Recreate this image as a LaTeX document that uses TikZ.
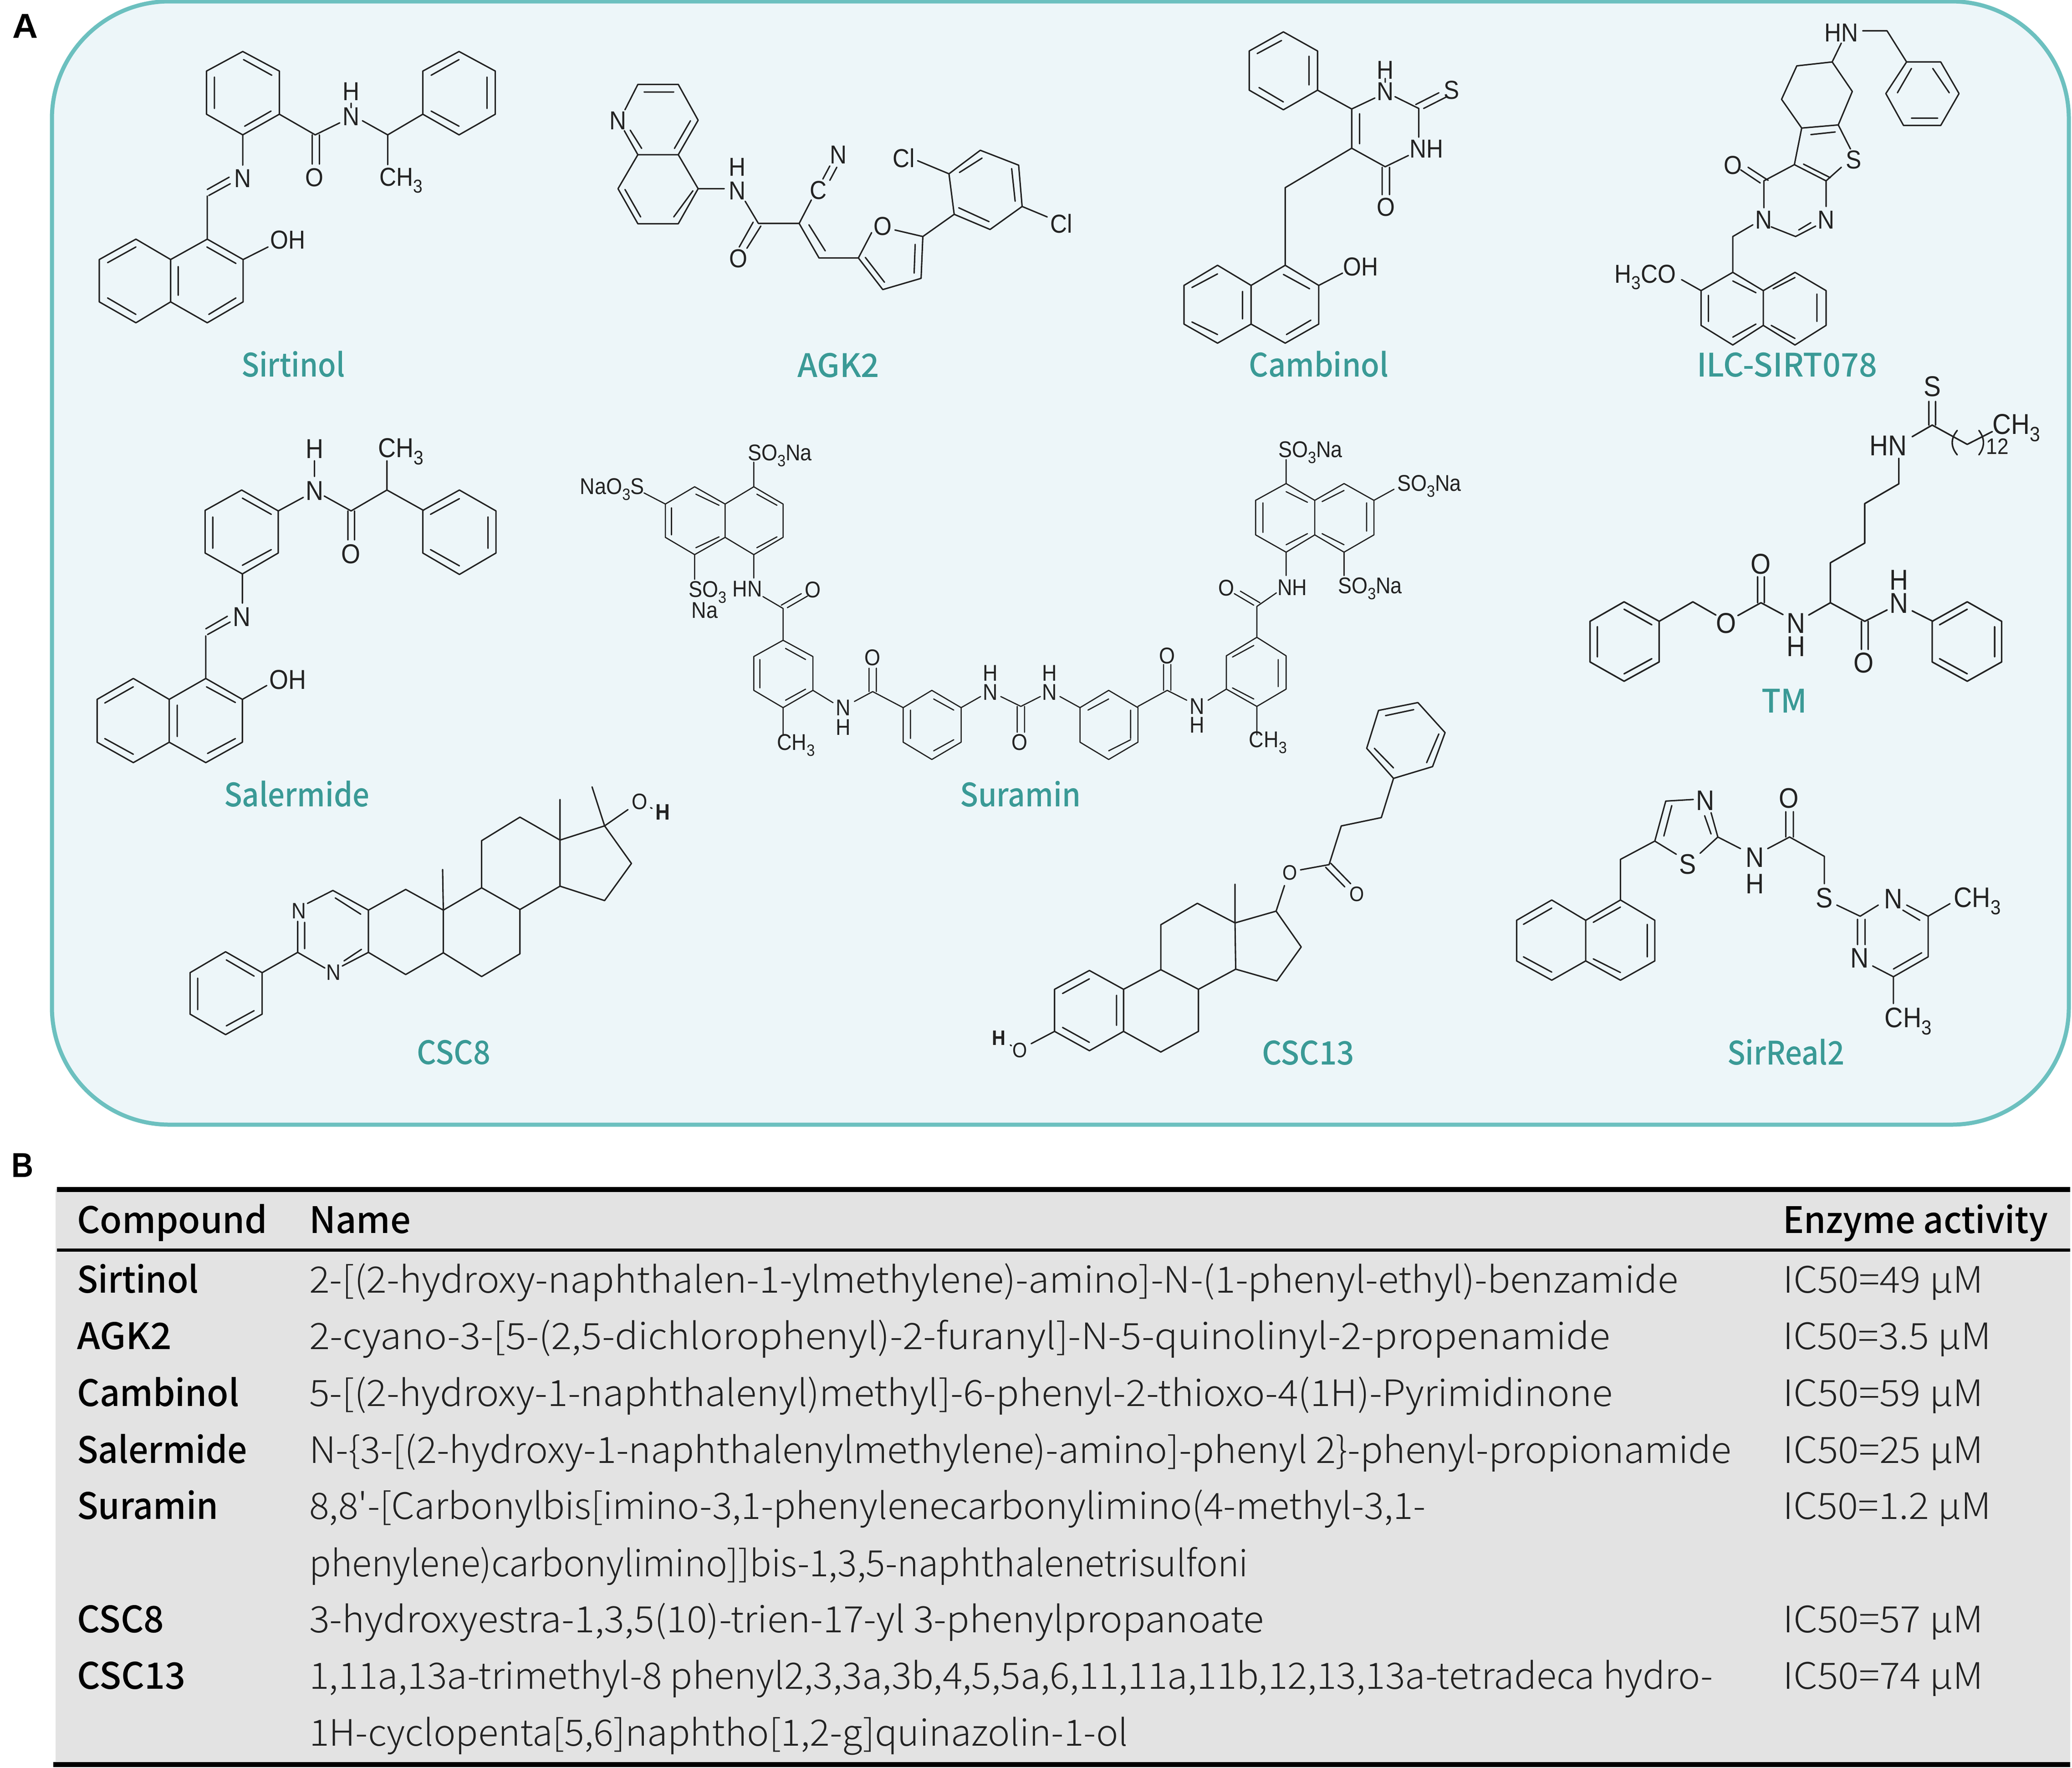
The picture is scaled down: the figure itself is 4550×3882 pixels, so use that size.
\documentclass[tikz,border=0pt]{standalone}
\usepackage{fontspec}
\usepackage{graphicx}
\newfontfamily\chemf{Liberation Sans}[FakeStretch=0.9]
\newfontfamily\platef{Liberation Sans}
\newfontfamily\tabf{Noto Sans CJK SC Light}[BoldFont={Noto Sans CJK SC Medium}]
\newfontfamily\labf{Noto Sans CJK SC Medium}
\definecolor{teal1}{HTML}{3A9A96}
\definecolor{edgeT}{HTML}{6CC0BF}
\definecolor{panelF}{HTML}{EDF6F9}
\definecolor{grayT}{HTML}{E3E3E3}
\definecolor{ink}{HTML}{222222}
\newlength\fitlen
\newcommand\fitto[2]{\settowidth\fitlen{#2}\pgfmathsetmacro\fitr{#1/\the\fitlen}\scalebox{\fitr}[1]{#2}}
\newcommand\lowr[1]{\raisebox{-0.26em}{\scalebox{0.72}{#1}}}
\def\asz{48}
\tikzset{
 bond/.style={draw=ink,line width=3.1pt,line cap=round,line join=round},
 atom/.style={inner sep=0pt,text=ink,font=\fontsize{\asz}{\asz}\selectfont\chemf},
 atomw/.style={atom,anchor=base west},
 molname/.style={inner sep=0pt,anchor=base west,text=teal1,font=\fontsize{71}{71}\selectfont\labf},
 tabb/.style={inner sep=0pt,anchor=base west,text=black,font=\fontsize{80}{80}\selectfont\tabf\bfseries},
 tabr/.style={inner sep=0pt,anchor=base west,text=ink,font=\fontsize{80}{80}\selectfont\tabf},
 plabel/.style={inner sep=0pt,anchor=base west,text=black,font=\fontsize{76}{76}\selectfont\platef\bfseries},
 mol/.style n args={4}{shift={(#1pt,-#2pt)},x=#3pt,y=-#4pt}
}
\newcommand\atm[2]{\node[atom] at (#1) {#2};}
\newcommand\atb[2]{\node[atomw] at (#1) {#2};}
\begin{document}
\begin{tikzpicture}[x=1pt,y=-1pt]
\useasboundingbox (0,0) rectangle (4550,3882);
\fill[white] (0,0) rectangle (4550,3882);
% panel
\path[draw=edgeT,fill=panelF,line width=9pt,rounded corners=258pt] (114,3) rectangle (4543,2470);
\node[plabel] (pa) at (27,83) {\fitto{56}{A}};
\node[plabel] (pb) at (25,2585) {\fitto{48}{B}};
% names
\node[molname] (n1) at (530,827) {\fitto{227}{Sirtinol}};
\node[molname] (n2) at (1751,828) {\fitto{180}{AGK2}};
\node[molname] (n3) at (2742,827) {\fitto{307}{Cambinol}};
\node[molname] (n4) at (3726,827) {\fitto{396}{ILC-SIRT078}};
\node[molname] (n5) at (492,1771) {\fitto{319}{Salermide}};
\node[molname] (n6) at (2108,1771) {\fitto{265}{Suramin}};
\node[molname] (n7) at (3868,1565) {\fitto{100}{TM}};
\node[molname] (n8) at (915,2337) {\fitto{162}{CSC8}};
\node[molname] (n9) at (2771,2338) {\fitto{203}{CSC13}};
\node[molname] (n10) at (3793,2338) {\fitto{257}{SirReal2}};
% Sirtinol
\begin{scope}[mol={0}{0}{.829}{.574}]
\def\asz{57}
\draw[bond] (643,197)--(740,272)--(740,437)--(643,516)--(547,437)--(547,272)--cycle
 (645,228)--(720,288) (568,295)--(568,415) (718,425)--(648,483)
 (740,437)--(835,516)--(900,470) (960,462)--(1027,516)--(1120,437)
 (1216,197)--(1312,272)--(1312,437)--(1216,516)--(1120,437)--(1120,272)--cycle
 (1216,228)--(1142,288) (1290,295)--(1290,415) (1142,425)--(1216,483)
 (1027,516)--(1027,630) (827,516)--(827,628) (846,516)--(846,628)
 (930,395)--(930,412) (643,516)--(643,632)
 (549,725)--(607,678) (553,748)--(610,703) (549,750)--(549,915)
 (549,915)--(644,993)--(644,1155)--(549,1235)--(452,1155)--(452,993)--cycle
 (452,993)--(360,915)--(263,993)--(263,1155)--(360,1235)--(452,1155)
 (548,945)--(625,1008) (472,1020)--(472,1130) (553,1203)--(625,1140)
 (360,945)--(285,1005) (285,1140)--(360,1203) (644,993)--(710,945);
\atm{930,445}{N}\atm{930,350}{H}\atm{833,680}{O}\atm{643,683}{N}
\atm{762,918}{OH}\atb{1005,712}{CH\lowr{3}}
\end{scope}
% AGK2
\begin{scope}[mol={1250}{0}{.765}{.574}]
\def\asz{57}
\draw[bond] (160,420)--(197,323)--(313,323)--(370,460)--(313,592)--(197,592)--(158,500)
 (215,352)--(300,352) (348,462)--(302,568) (208,568)--(175,498)
 (313,592)--(370,722)--(313,856)--(197,856)--(140,722)--(197,592)
 (355,730)--(300,830) (205,830)--(160,725) (370,722)--(445,722)
 (505,770)--(543,855) (550,865)--(510,950) (528,850)--(488,945) (543,855)--(660,855)--(695,765)
 (728,685)--(748,635) (748,690)--(768,640)
 (660,855)--(717,987)--(830,987) (688,860)--(735,960)
 (868,890)--(830,987)--(900,1108)--(1010,1065)--(1015,905)--(935,880)
 (993,935)--(990,1045) (905,1080)--(850,985)
 (1015,905)--(1105,820)
 (1105,820)--(1090,665)--(1180,575)--(1290,632)--(1300,790)--(1208,878)--cycle
 (1120,660)--(1185,605) (1270,645)--(1280,770) (1118,795)--(1205,848)
 (1000,615)--(1090,665) (1300,790)--(1372,830);
\atm{140,462}{N}\atm{483,730}{N}\atm{483,640}{H}\atm{485,990}{O}\atm{715,728}{C}\atm{772,592}{N}
\atm{900,865}{O}\atm{960,605}{Cl}\atm{1413,855}{Cl}
\end{scope}
% Cambinol + ILC
\begin{scope}[mol={2450}{0}{1.339}{.574}]
\def\asz{57}
\draw[bond] (275,122)--(331,195)--(331,345)--(275,420)--(219,345)--(219,195)--cycle
 (232,205)--(272,155) (317,215)--(317,325) (235,335)--(275,390)
 (331,345)--(387,417)--(425,375) (458,370)--(497,415)--(497,525) (480,595)--(442,638)--(387,567)--(387,417)
 (400,435)--(400,550) (492,400)--(530,355) (505,415)--(543,370)
 (442,300)--(442,315) (437,640)--(437,745) (449,640)--(449,745)
 (387,567)--(278,718)--(278,1015)
 (278,1015)--(333,1092)--(333,1240)--(278,1313)--(222,1240)--(222,1092)--cycle
 (222,1092)--(167,1015)--(112,1092)--(112,1240)--(167,1313)--(222,1240)
 (275,1050)--(318,1105) (208,1115)--(208,1220) (280,1280)--(320,1225)
 (167,1048)--(125,1100) (125,1232)--(167,1280) (333,1092)--(372,1045);
\atm{442,268}{H}\atm{442,350}{N}\atm{551,345}{S}\atm{510,570}{NH}\atm{443,792}{O}\atm{402,1020}{OH}
% ILC
\draw[bond] (1225,118)--(1265,118)--(1297,237)
 (1297,237)--(1353,237)--(1383,358)--(1353,480)--(1292,480)--(1263,358)--cycle
 (1282,355)--(1305,262) (1340,262)--(1367,355) (1305,452)--(1348,452)
 (1190,165)--(1175,237)--(1117,252)--(1092,380)--(1125,490)--(1185,478)--(1208,350)--(1175,237)
 (1140,515)--(1180,505) (1185,478)--(1205,570) (1125,490)--(1113,630)--(1165,692)--(1190,640)
 (1128,628)--(1172,680) (1165,692)--(1165,790) (1113,630)--(1063,692)--(1063,795)
 (1057,700)--(1025,650) (1070,690)--(1037,640)
 (1075,868)--(1115,905)--(1148,865) (1120,880)--(1140,852)
 (1045,860)--(1012,905)--(1012,1042)
 (1012,1042)--(1062,1112)--(1062,1245)--(1012,1320)--(960,1245)--(960,1112)--cycle
 (1062,1112)--(1114,1042)--(1165,1112)--(1165,1245)--(1114,1320)--(1062,1245)
 (1012,1075)--(1050,1120) (972,1130)--(972,1230) (1012,1290)--(1050,1240)
 (1078,1105)--(1114,1062) (1150,1125)--(1150,1230) (1075,1245)--(1114,1295)
 (928,1070)--(960,1112);
\atm{1190,125}{HN}\atm{1210,612}{S}\atm{1165,842}{N}\atm{1063,842}{N}\atm{1012,632}{O}
\atb{818,1082}{H\lowr{3}CO}
\end{scope}
% Salermide
\begin{scope}[mol={100}{900}{.765}{.574}]
\def\asz{60}
\draw[bond] (563,307)--(668,387)--(668,548)--(565,628)--(458,548)--(458,385)--cycle
 (565,338)--(648,400) (480,410)--(480,530) (565,595)--(648,535)
 (668,387)--(740,335) (772,195)--(772,255) (800,330)--(877,387)--(980,307)--(980,195)
 (980,307)--(1085,385)
 (1188,307)--(1293,387)--(1293,548)--(1188,630)--(1083,548)--(1083,385)--cycle
 (1188,340)--(1105,400) (1270,410)--(1270,530) (1105,535)--(1188,597)
 (868,387)--(868,498) (887,387)--(887,498) (565,628)--(565,740)
 (460,838)--(522,790) (465,860)--(530,812) (460,865)--(460,1028)
 (460,1028)--(565,1108)--(565,1272)--(460,1350)--(355,1272)--(355,1108)--cycle
 (355,1108)--(252,1028)--(148,1108)--(148,1272)--(252,1350)--(355,1272)
 (462,1060)--(545,1120) (378,1130)--(378,1250) (465,1315)--(545,1258)
 (252,1060)--(170,1122) (170,1258)--(252,1318) (565,1108)--(635,1055);
\atm{772,310}{N}\atm{772,150}{H}\atm{876,552}{O}\atm{563,792}{N}\atm{695,1033}{OH}
\atb{955,182}{CH\lowr{3}}
\end{scope}
% Suramin
\begin{scope}[mol={1200}{920}{1.339}{.542}]
\def\asz{50}
\tikzset{bond/.append style={line width=2.6pt}}
\draw[bond] (340,275)--(388,345)--(388,480)--(340,550)--(293,480)--(293,345)--cycle
 (293,345)--(243,275)--(195,345)--(195,480)--(243,550)--(293,480)
 (245,305)--(283,350) (205,360)--(205,470) (245,522)--(283,478) (345,305)--(378,350) (345,522)--(378,478)
 (340,275)--(340,175) (195,345)--(160,300) (243,550)--(243,650) (340,550)--(340,645)
 (355,720)--(388,768) (385,755)--(418,708) (395,765)--(428,718) (388,768)--(388,897)
 (388,897)--(437,963)--(437,1100)--(388,1170)--(340,1100)--(340,963)--cycle
 (392,930)--(425,975) (350,975)--(350,1090) (392,1140)--(425,1095)
 (388,1170)--(388,1280) (437,1100)--(470,1150) (505,1145)--(535,1105)
 (529,1105)--(529,1010) (541,1105)--(541,1010) (535,1105)--(585,1170)
 (632,1100)--(680,1170)--(680,1310)--(632,1380)--(585,1310)--(585,1170)--cycle
 (635,1135)--(668,1180) (597,1180)--(597,1295) (635,1345)--(668,1300)
 (680,1170)--(712,1125) (745,1125)--(778,1165)--(810,1125)
 (772,1165)--(772,1270) (784,1165)--(784,1270) (842,1125)--(875,1170)
 (922,1100)--(970,1170)--(970,1310)--(922,1380)--(875,1310)--(875,1170)--cycle
 (922,1135)--(888,1180) (958,1180)--(958,1295) (922,1345)--(958,1300)
 (970,1165)--(1018,1100) (1012,1100)--(1012,995) (1024,1100)--(1024,995)
 (1018,1100)--(1050,1140) (1085,1140)--(1115,1095)
 (1165,885)--(1213,960)--(1213,1095)--(1165,1165)--(1115,1095)--(1115,960)--cycle
 (1160,918)--(1125,965) (1200,975)--(1200,1085) (1125,1090)--(1160,1135)
 (1165,1165)--(1165,1280) (1165,885)--(1165,760) (1160,755)--(1128,708) (1170,745)--(1138,698)
 (1165,760)--(1197,705) (1213,635)--(1213,540)
 (1213,262)--(1260,330)--(1260,470)--(1213,540)--(1163,470)--(1163,330)--cycle
 (1260,330)--(1308,262)--(1357,330)--(1357,470)--(1308,540)--(1260,470)
 (1213,295)--(1248,338) (1175,340)--(1175,460) (1213,510)--(1248,465)
 (1272,335)--(1308,290) (1345,340)--(1345,455) (1272,465)--(1308,510)
 (1213,262)--(1213,165) (1357,330)--(1390,285) (1308,540)--(1308,635);
\atb{330,168}{SO\lowr{3}Na}\atb{55,305}{NaO\lowr{3}S}\atb{233,722}{SO\lowr{3}}\atb{238,808}{Na}
\atb{305,720}{HN}\atm{437,692}{O}\atb{378,1342}{CH\lowr{3}}\atm{487,1170}{N}\atm{487,1250}{H}
\atm{535,967}{O}\atm{728,1108}{N}\atm{728,1030}{H}\atm{825,1108}{N}\atm{825,1030}{H}\atm{776,1310}{O}
\atm{1018,960}{O}\atm{1067,1165}{N}\atm{1067,1240}{H}\atb{1152,1332}{CH\lowr{3}}\atm{1115,685}{O}
\atm{1223,683}{NH}\atb{1200,155}{SO\lowr{3}Na}\atb{1395,292}{SO\lowr{3}Na}\atb{1298,708}{SO\lowr{3}Na}
\end{scope}
% TM
\begin{scope}[mol={3400}{800}{.733}{.51}]
\def\asz{63}
\tikzset{bond/.append style={line width=3.4pt}}
\draw[bond] (227,1023)--(332,1107)--(332,1282)--(227,1365)--(125,1282)--(125,1107)--cycle
 (227,1055)--(310,1122) (147,1130)--(147,1260) (227,1333)--(310,1268)
 (332,1107)--(433,1023)--(502,1080) (568,1082)--(637,1027)--(703,1078)
 (627,1027)--(627,915) (647,1027)--(647,915)
 (780,1080)--(845,1027)--(845,855)--(948,770)--(948,600)--(1050,515)--(1050,405)
 (1090,312)--(1150,262)--(1255,345)--(1330,290) (1140,262)--(1140,160) (1160,262)--(1160,160)
 (1225,285) .. controls (1205,320) and (1205,355) .. (1225,390)
 (1290,285) .. controls (1308,320) and (1308,355) .. (1290,390)
 (845,1027)--(948,1107)--(1015,1058) (938,1107)--(938,1228) (958,1107)--(958,1228)
 (1090,1062)--(1152,1107)
 (1255,1023)--(1358,1107)--(1358,1282)--(1255,1365)--(1150,1282)--(1150,1107)--cycle
 (1255,1055)--(1172,1122) (1337,1130)--(1337,1260) (1172,1268)--(1255,1333);
\atm{533,1115}{O}\atm{637,860}{O}\atm{742,1115}{N}\atm{742,1215}{H}\atm{1018,350}{HN}\atm{1150,95}{S}
\atb{1330,300}{CH\lowr{3}}\atb{1312,388}{\scalebox{.78}{12}}\atm{945,1285}{O}\atm{1050,1030}{N}\atm{1050,930}{H}
\end{scope}
% CSC8
\begin{scope}[mol={350}{1680}{.765}{.446}]
\def\asz{49}
\draw[bond] (190,920)--(295,1023)--(295,1227)--(190,1328)--(88,1227)--(88,1023)--cycle
 (192,960)--(272,1040) (110,1050)--(110,1205) (192,1285)--(272,1210)
 (295,1023)--(397,923) (397,923)--(397,770) (417,905)--(417,775) (397,923)--(475,1000)
 (525,990)--(600,923)--(600,715)--(498,618)--(425,682) (530,965)--(580,908) (505,655)--(578,735)
 (600,715)--(707,613)--(815,715)--(815,925)--(707,1032)--(600,923)
 (813,515)--(815,715) (815,715)--(925,605)--(1035,712)--(1035,930)--(925,1042)--(815,925)
 (925,605)--(925,373)--(1035,257)--(1150,370)--(1150,597)--(1035,712)
 (1150,170)--(1150,370)--(1278,300)--(1355,485)--(1278,668)--(1150,597)
 (1242,108)--(1278,300)--(1345,220) (1410,210)--(1414,214);
\atm{400,718}{N}\atm{500,1022}{N}\atm{1378,180}{O}\atm{1445,232}{\bfseries H}
\end{scope}
% CSC13
\begin{scope}[mol={2100}{1500}{.765}{.574}]
\def\asz{46}
\draw[bond] (1325,75)--(1403,190)--(1367,320)--(1255,365)--(1178,250)--(1212,105)--cycle
 (1232,125)--(1313,102) (1385,195)--(1350,305) (1200,250)--(1255,325)
 (1255,365)--(1220,515)--(1105,547)--(1070,695)--(988,715)
 (1075,690)--(1132,768) (1060,705)--(1115,780) (942,775)--(918,873)
 (918,873)--(990,1010)--(920,1140)--(802,1095)--(800,918)--cycle
 (800,918)--(692,843)--(587,925)--(587,1097)--(695,1172)--(802,1095) (800,770)--(800,918)
 (695,1172)--(695,1333)--(587,1412)--(480,1333)--(480,1172)--(587,1097)
 (480,1172)--(382,1100)--(282,1172)--(282,1333)--(382,1407)--(480,1333)
 (382,1132)--(305,1188) (460,1195)--(460,1310) (305,1318)--(382,1375)
 (282,1333)--(215,1380) (155,1385)--(158,1388);
\atm{958,725}{O}\atm{1150,808}{O}\atm{182,1405}{O}\atm{122,1358}{\bfseries H}
\end{scope}
% SirReal2
\begin{scope}[mol={3250}{1680}{.829}{.446}]
\def\asz{62}
\draw[bond] (190,665)--(280,765)--(280,965)--(190,1060)--(97,965)--(97,765)--cycle
 (280,765)--(372,665)--(463,765)--(463,965)--(372,1060)--(280,965)
 (190,705)--(115,785) (115,945)--(190,1020) (372,700)--(300,775) (443,785)--(443,945) (300,955)--(372,1022)
 (372,665)--(372,465)--(463,375)--(492,178)--(565,170)
 (487,350)--(508,200) (612,235)--(630,355)--(583,435) (595,250)--(612,340) (463,375)--(520,440)
 (630,355)--(690,412) (762,412)--(820,355)--(912,450)--(912,585)
 (810,355)--(810,230) (830,355)--(830,230) (945,690)--(1007,745)--(1055,690)
 (1130,690)--(1187,745)--(1187,945)--(1095,1043)--(1040,990) (1120,715)--(1165,765) (1170,925)--(1095,1005)
 (1000,760)--(1000,885) (1020,760)--(1020,885) (1187,745)--(1245,683) (1095,1043)--(1095,1175);
\atm{597,175}{N}\atm{550,490}{S}\atm{728,455}{N}\atm{728,585}{H}\atm{818,165}{O}\atm{912,655}{S}
\atm{1095,660}{N}\atm{1005,950}{N}\atb{1255,700}{CH\lowr{3}}\atb{1072,1293}{CH\lowr{3}}
\end{scope}
% table
\fill[grayT] (122,2612) rectangle (4546,3875);
\draw[black,line width=11pt] (125,2612)--(4546,2612);
\draw[black,line width=7pt] (125,2745.5)--(4546,2745.5);
\draw[black,line width=11pt] (117,3875)--(4546,3875);
\node[tabb] (h1) at (169,2708) {\fitto{418}{Compound}};
\node[tabb] (h2) at (679,2708) {\fitto{223}{Name}};
\node[tabb] (h3) at (3915,2708) {\fitto{582}{Enzyme activity}};
\node[tabb] (c1) at (169,2839.5) {\fitto{267}{Sirtinol}};
\node[tabb] (c2) at (169,2963) {\fitto{208}{AGK2}};
\node[tabb] (c3) at (169,3088) {\fitto{356}{Cambinol}};
\node[tabb] (c4) at (169,3213) {\fitto{374}{Salermide}};
\node[tabb] (c5) at (169,3336.5) {\fitto{310}{Suramin}};
\node[tabb] (c6) at (169,3585) {\fitto{191}{CSC8}};
\node[tabb] (c7) at (169,3709) {\fitto{238}{CSC13}};
\node[tabr] (d1) at (679,2839.5) {\fitto{3006}{2-[(2-hydroxy-naphthalen-1-ylmethylene)-amino]-N-(1-phenyl-ethyl)-benzamide}};
\node[tabr] (d2) at (679,2963) {\fitto{2857}{2-cyano-3-[5-(2,5-dichlorophenyl)-2-furanyl]-N-5-quinolinyl-2-propenamide}};
\node[tabr] (d3) at (679,3088) {\fitto{2862}{5-[(2-hydroxy-1-naphthalenyl)methyl]-6-phenyl-2-thioxo-4(1H)-Pyrimidinone}};
\node[tabr] (d4) at (679,3213) {\fitto{3123}{N-\{3-[(2-hydroxy-1-naphthalenylmethylene)-amino]-phenyl 2\}-phenyl-propionamide}};
\node[tabr] (d5) at (679,3336.5) {\fitto{2451}{8,8'-[Carbonylbis[imino-3,1-phenylenecarbonylimino(4-methyl-3,1-}};
\node[tabr] (d6) at (679,3462) {\fitto{2062}{phenylene)carbonylimino]]bis-1,3,5-naphthalenetrisulfoni}};
\node[tabr] (d7) at (679,3585) {\fitto{2096}{3-hydroxyestra-1,3,5(10)-trien-17-yl 3-phenylpropanoate}};
\node[tabr] (d8) at (679,3709) {\fitto{3082}{1,11a,13a-trimethyl-8 phenyl2,3,3a,3b,4,5,5a,6,11,11a,11b,12,13,13a-tetradeca hydro-}};
\node[tabr] (d9) at (679,3834) {\fitto{1798}{1H-cyclopenta[5,6]naphtho[1,2-g]quinazolin-1-ol}};
\node[tabr] (e1) at (3915,2839.5) {\fitto{440}{IC50=49 µM}};
\node[tabr] (e2) at (3915,2963) {\fitto{457}{IC50=3.5 µM}};
\node[tabr] (e3) at (3915,3088) {\fitto{440}{IC50=59 µM}};
\node[tabr] (e4) at (3915,3213) {\fitto{440}{IC50=25 µM}};
\node[tabr] (e5) at (3915,3336.5) {\fitto{457}{IC50=1.2 µM}};
\node[tabr] (e6) at (3915,3585) {\fitto{440}{IC50=57 µM}};
\node[tabr] (e7) at (3915,3709) {\fitto{440}{IC50=74 µM}};
\end{tikzpicture}
\end{document}
